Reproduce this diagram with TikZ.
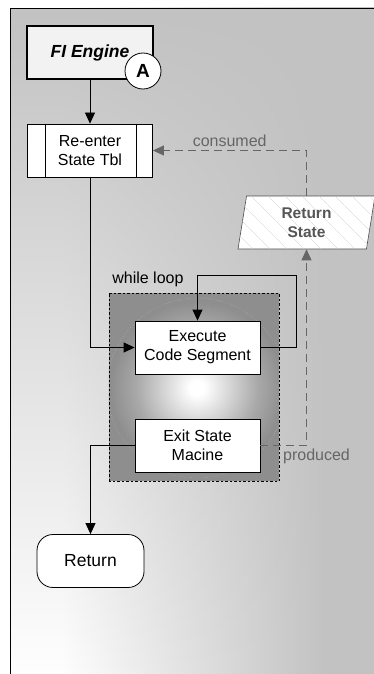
\documentclass[tikz,border=0pt]{standalone}
\usepackage{fontspec}
\setmainfont{Liberation Sans}
\usetikzlibrary{arrows.meta,patterns.meta,fadings,shapes.geometric}
\definecolor{panelgray}{HTML}{C2C2C2}
\definecolor{groupgray}{HTML}{8E8E8E}
\definecolor{glowmid}{HTML}{DCDCDC}
\definecolor{glowouter}{HTML}{A8A8A8}
\definecolor{dashgray}{HTML}{666666}
\definecolor{boxgray}{HTML}{F2F2F2}
\definecolor{statetext}{HTML}{555555}
\tikzfading[name=fadedown, top color=transparent!0, bottom color=transparent!100]
\pgfdeclarehorizontalshading{panelside}{100bp}{color(0bp)=(white); color(32bp)=(white); color(68bp)=(panelgray); color(100bp)=(panelgray)}
\pgfdeclareradialshading{glow}{\pgfpoint{0bp}{0bp}}{color(0bp)=(white); color(2bp)=(white); color(8bp)=(glowmid); color(17bp)=(glowouter); color(24bp)=(groupgray); color(50bp)=(groupgray)}

\begin{document}
\begin{tikzpicture}[x=1pt, y=1pt, node distance=98pt,
  main/.style = {draw, rectangle, fill=white, line width=0.8pt, minimum width=125pt, minimum height=53pt, align=center, font=\fontsize{16}{19}\selectfont},
  flow/.style = {-{Triangle[length=11pt, width=10pt]}, line width=0.8pt},
  feed/.style = {flow, dashgray, dash pattern=on 8pt off 5pt},
  tag/.style = {dashgray, font=\fontsize{16}{18}\selectfont}]
\useasboundingbox (0,0) rectangle (373,-674);
% panel background
\shade[shading=panelside] (10,-8) rectangle (380,-680);
\fill[panelgray, path fading=fadedown] (10,-8) rectangle (380,-680);
\draw[line width=0.8pt] (380,-8) -- (10,-8) -- (10,-680);
% while loop group
\node[fill=groupgray, minimum width=170pt, minimum height=188pt, inner sep=0pt] (8) at (194,-387) {};
\begin{scope}
  \clip (8.south west) rectangle (8.north east);
  \shade[shading=glow] (197,-388) circle (90);
  \draw[white!75!groupgray, dotted, line width=0.3pt] (197,-388) circle (90);
\end{scope}
\draw[dash pattern=on 2.5pt off 2pt, line width=0.6pt] (8.south west) rectangle (8.north east);
\node[anchor=south west, font=\fontsize{16}{18}\selectfont] (9) at ([xshift=0pt, yshift=2pt]8.north west) {while loop};
% nodes
\node[main, fill=boxgray, line width=1.5pt, minimum width=126pt, font=\bfseries\itshape\fontsize{17.5}{19}\selectfont] (1) at (90,-52.5) {FI Engine};
\node[draw, circle, fill=white, line width=0.8pt, minimum size=36pt, inner sep=0pt, font=\bfseries\fontsize{19}{19}\selectfont] (2) at (143,-71) {A};
\node[main] (3) [below of=1] {Re-enter\\State Tbl};
\draw[line width=0.8pt] ([xshift=18pt]3.north west) -- ([xshift=18pt]3.south west);
\draw[line width=0.8pt] ([xshift=-17pt]3.north east) -- ([xshift=-17pt]3.south east);
\node[main] (4) at (197.5,-347.5) {Execute\\Code Segment};
\node[main] (5) [below of=4] {Exit State\\Macine};
\node[main, rounded corners=16pt, minimum width=107pt, font=\fontsize{17.5}{19}\selectfont] (6) at (90.5,-561) {Return};
\node[draw=black!70, line width=0.6pt, trapezium, trapezium left angle=74, trapezium right angle=106, trapezium stretches body, minimum width=137pt, minimum height=53pt, inner sep=0pt, fill=white, postaction={pattern={Lines[angle=-45, distance=13pt, line width=0.4pt]}, pattern color=gray!35}, align=center, text=statetext, font=\bfseries\fontsize{15.5}{19}\selectfont] (7) at (306.5,-222.5) {Return\\State};
% connectors
\draw[flow] (1.south) -- (3.north);
\draw[flow] (3.south) |- (4.west);
\draw[flow] (4.east) -- ++(36,0) |- ([yshift=45pt]4.north) -- (4.north);
\draw[flow] (5.west) -| (6.north);
\draw[feed] (5.east) -| node[tag, pos=0.5, below, xshift=10pt] {produced} (7.south);
\draw[feed] (7.north) |- node[tag, pos=0.75, above] {consumed} (3.east);
\end{tikzpicture}
\end{document}
